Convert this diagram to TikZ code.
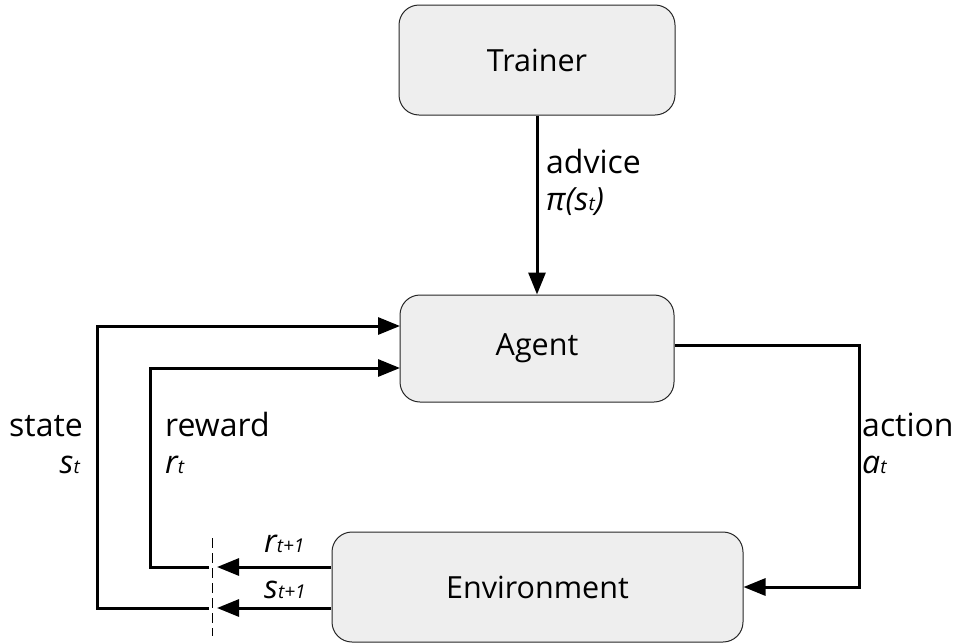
\documentclass[tikz,border=0pt]{standalone}
\usepackage{fontspec}
\setmainfont{Open Sans}
\usetikzlibrary{arrows.meta}
\definecolor{boxfill}{HTML}{EEEEEE}
\newcommand\subsz[1]{{\fontsize{19}{19}\selectfont\itshape #1}}
\tikzset{
  blockbox/.style={draw=black!85, line width=1pt, fill=boxfill, rounded corners=20pt, font=\fontsize{30.5}{34}\selectfont, inner sep=0pt},
  flow/.style={line width=3pt, -{Triangle[length=22pt,width=17pt]}},
  lbl/.style={font=\fontsize{32}{36}\selectfont, inner sep=0pt},
}
\begin{document}
\begin{tikzpicture}[x=1pt,y=-1pt]
\useasboundingbox (0,0) rectangle (963,643);
\node[blockbox, minimum width=276pt, minimum height=110pt] (trainer) at (537,60) {Trainer};
\node[blockbox, minimum width=274pt, minimum height=107pt] (agent) at (537,348.5) {Agent};
\node[blockbox, minimum width=411pt, minimum height=110pt] (env) at (537.5,587) {Environment};

% trainer -> agent
\draw[flow] (trainer.south) -- (agent.north);
\node[lbl, anchor=base west] (advice) at (546,173) {advice};
\node[lbl, anchor=base west] (pi) at (546,210) {\itshape π(s\subsz{t})};

% agent -> environment
\coordinate (aout) at (675,345);
\coordinate (acorner) at (859,345);
\draw[flow] (aout) -- (acorner) |- (env.east);
\node[lbl, anchor=base west] (action) at (862,436) {action};
\node[lbl, anchor=base west] (at) at (862,473) {\itshape a\subsz{t}};

% environment -> cut
\coordinate (rout) at (331,567);
\coordinate (sout) at (331,608);
\coordinate (rtip) at (217,567);
\coordinate (stip) at (217,608);
\draw[flow] (rout) -- (rtip);
\draw[flow] (sout) -- (stip);
\node[lbl, anchor=base west] (rt1) at (264,552) {\itshape r\subsz{t+1}};
\node[lbl, anchor=base west] (st1) at (264,598) {\itshape s\subsz{t+1}};

% cut line
\coordinate (cuttop) at (212,538);
\coordinate (cutbot) at (212,636);
\draw[line width=1pt, dash pattern=on 10pt off 5pt] (cuttop) -- (cutbot);

% loops back to agent
\coordinate (rin) at (209,567);
\coordinate (sin) at (209,608);
\coordinate (rcorner) at (150,567);
\coordinate (scorner) at (97,608);
\coordinate (rend) at (400,368);
\coordinate (send) at (400,326);
\draw[flow] (sin) -- (scorner) |- (send);
\draw[flow] (rin) -- (rcorner) |- (rend);

\node[lbl, anchor=base west] (state) at (9,436) {state};
\node[lbl, anchor=base east] (st) at (80,473) {\itshape s\subsz{t}};
\node[lbl, anchor=base west] (reward) at (165,436) {reward};
\node[lbl, anchor=base west] (rt) at (165,473) {\itshape r\subsz{t}};
\end{tikzpicture}
\end{document}
